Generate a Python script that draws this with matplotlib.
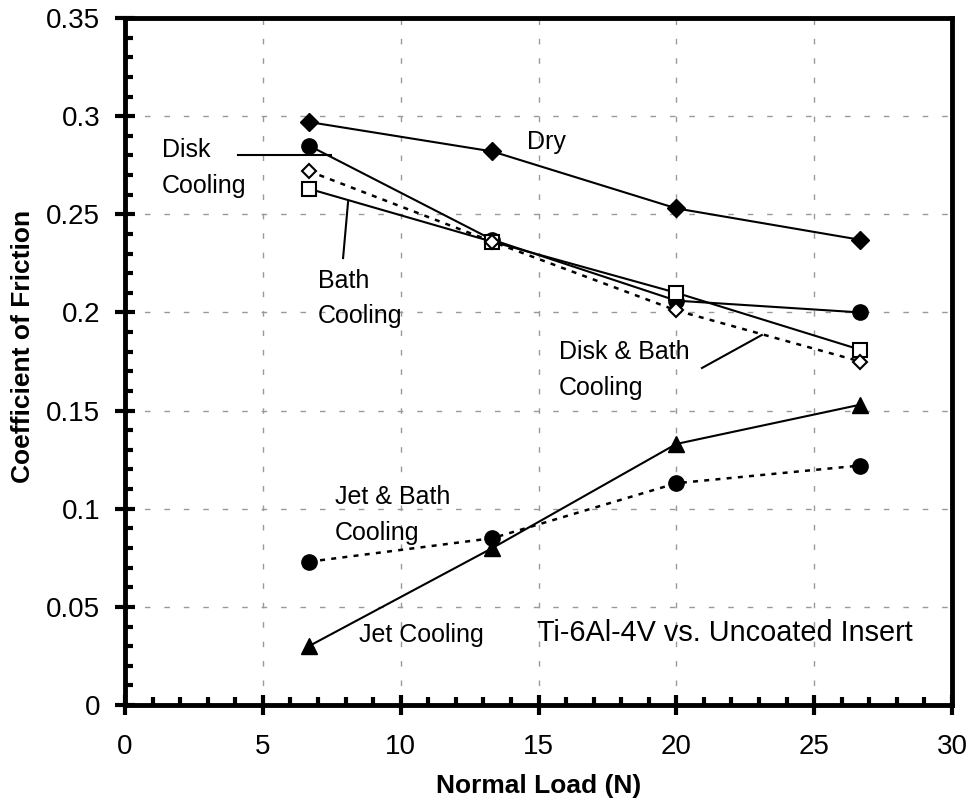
import numpy as np
import matplotlib.pyplot as plt
from matplotlib.ticker import MultipleLocator

plt.rcParams['font.family'] = ['Liberation Sans', 'DejaVu Sans']

load = [6.67, 13.33, 20.0, 26.67]
dry = [0.297, 0.282, 0.253, 0.237]
disk = [0.285, 0.237, 0.206, 0.200]
bath = [0.263, 0.236, 0.210, 0.181]
disk_bath = [0.272, 0.236, 0.201, 0.175]
jet_bath = [0.073, 0.085, 0.113, 0.122]
jet = [0.030, 0.080, 0.133, 0.153]

fig = plt.figure(figsize=(9.67, 8.1), dpi=100)
ax = fig.add_axes([0.1293, 0.1296, 0.8552, 0.8482])

dots = (0, (2.0, 2.5))
ax.plot(load, dry, '-', color='black', lw=1.5, marker='D', ms=9, mfc='black', zorder=3)
ax.plot(load, disk, '-', color='black', lw=1.5, marker='o', ms=11, mfc='black', zorder=3)
ax.plot(load, bath, '-', color='black', lw=1.5, marker='s', ms=10, mfc='white', mew=1.5, zorder=3)
ax.plot(load, disk_bath, linestyle=dots, color='black', lw=1.8, marker='D', ms=7.5, mfc='white', mew=1.5, zorder=3)
ax.plot(load, jet_bath, linestyle=dots, color='black', lw=1.8, marker='o', ms=11, mfc='black', zorder=3)
ax.plot(load, jet, '-', color='black', lw=1.5, marker='^', ms=11, mfc='black', zorder=3)

# leader lines
ax.plot([4.10, 7.47], [0.2802, 0.2802], color='black', lw=1.5)
ax.plot([8.09, 7.91], [0.2562, 0.2277], color='black', lw=1.5)
ax.plot([20.93, 23.10], [0.1717, 0.1885], color='black', lw=1.5)

fs = 18
ax.text(1.35, 0.2736, 'Disk\nCooling', fontsize=fs, va='center', linespacing=1.6)
ax.text(14.6, 0.2868, 'Dry', fontsize=fs, va='center')
ax.text(7.0, 0.2071, 'Bath\nCooling', fontsize=fs, va='center', linespacing=1.6)
ax.text(15.75, 0.1707, 'Disk & Bath\nCooling', fontsize=fs, va='center', linespacing=1.6)
ax.text(7.6, 0.0968, 'Jet & Bath\nCooling', fontsize=fs, va='center', linespacing=1.62)
ax.text(8.5, 0.0357, 'Jet Cooling', fontsize=fs, va='center')
ax.text(14.95, 0.0367, 'Ti-6Al-4V vs. Uncoated Insert', fontsize=20.8, va='center')

ax.set_xlim(0, 30)
ax.set_ylim(0, 0.35)
ax.xaxis.set_major_locator(MultipleLocator(5))
ax.xaxis.set_minor_locator(MultipleLocator(1))
ax.yaxis.set_minor_locator(MultipleLocator(0.01))
ax.set_yticks(np.arange(0, 0.351, 0.05))
ax.set_yticklabels(['0', '0.05', '0.1', '0.15', '0.2', '0.25', '0.3', '0.35'])

ax.tick_params(which='major', direction='inout', length=14, width=3, labelsize=20)
ax.tick_params(axis='y', which='major', pad=11)
ax.tick_params(axis='x', which='major', pad=14)
ax.tick_params(which='minor', direction='in', length=6, width=3)
ax.grid(which='major', color='#999999', linestyle=(0, (4, 10)), lw=1)
for s in ax.spines.values():
    s.set_linewidth(3.5)

ax.set_xlabel('Normal Load (N)', fontsize=19, fontweight='bold')
ax.set_ylabel('Coefficient of Friction', fontsize=19, fontweight='bold')
ax.xaxis.set_label_coords(0.5, -0.1)
ax.yaxis.set_label_coords(-0.109, 0.5226)

plt.savefig('out.png', dpi=100)
